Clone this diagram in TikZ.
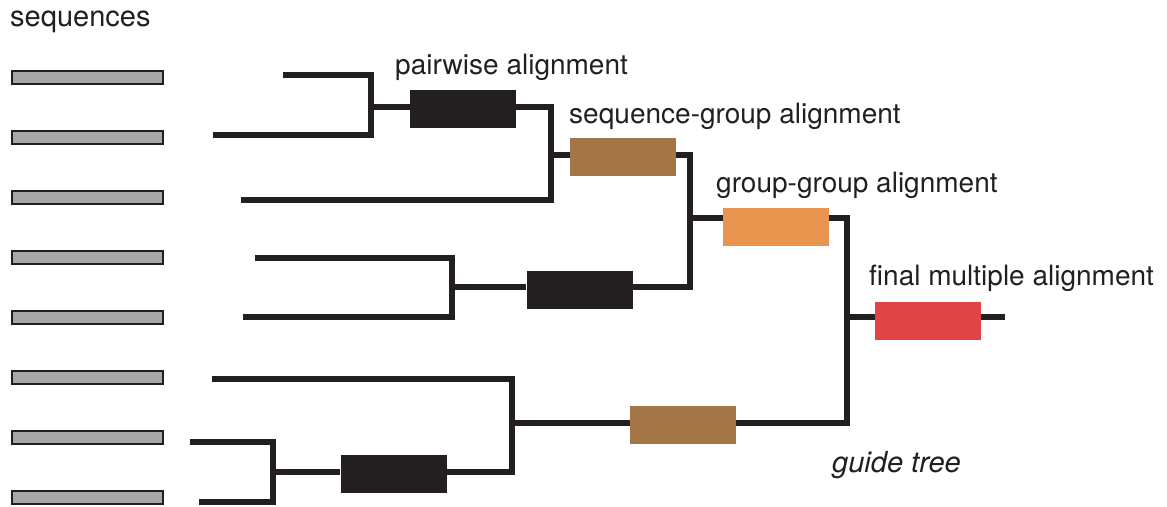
\documentclass[tikz,border=0pt]{standalone}
\usepackage{fontspec}
\setmainfont{TeX Gyre Heros}
\definecolor{ink}{HTML}{231F20}
\definecolor{seqgray}{HTML}{A7A7A7}
\definecolor{brownbox}{HTML}{A37547}
\definecolor{orangebox}{HTML}{E8954F}
\definecolor{redbox}{HTML}{E04446}
\tikzset{
  seqbar/.style={draw=ink, fill=seqgray, line width=2pt, minimum width=151pt, minimum height=13pt, inner sep=0pt},
  alnbox/.style={minimum width=106pt, minimum height=38pt, inner sep=0pt, draw=none},
  tree/.style={draw=ink, line width=5.5pt, line join=miter, line cap=butt},
  lbl/.style={anchor=base west, inner sep=0pt, text=ink, font=\fontsize{28}{32}\selectfont}
}
\begin{document}
\begin{tikzpicture}[x=1pt,y=-1pt]
\useasboundingbox (0,0) rectangle (1167,506);
% sequences
\foreach \i in {0,...,7}{
  \node[seqbar] (s\i) at (87.5,{77.5+60*\i}) {};
}
\node[lbl, font=\fontsize{29}{33}\selectfont] (tseq) at (10,27) {sequences};
% leaf starts
\coordinate (l1) at (283,75);
\coordinate (l2) at (213,135);
\coordinate (l3) at (241,200);
\coordinate (l4) at (255,258);
\coordinate (l5) at (243,317);
\coordinate (l6) at (212,379);
\coordinate (l7) at (190,442);
\coordinate (l8) at (199,502);
% junctions
\coordinate (c1) at (371,107);
\coordinate (c2) at (551,155);
\coordinate (c3) at (690,218);
\coordinate (c4) at (452,287);
\coordinate (c5) at (273,472);
\coordinate (c6) at (512,423);
\coordinate (c7) at (847,317);
\coordinate (cend) at (1005,317);
% boxes
\node[alnbox, fill=ink] (pw1) at (463,109) {};
\node[alnbox, fill=brownbox] (sg1) at (623,157) {};
\node[alnbox, fill=orangebox] (gg) at (776,227) {};
\node[alnbox, fill=ink] (pw2) at (579.5,290) {};
\node[alnbox, fill=ink] (pw3) at (393.5,474) {};
\node[alnbox, fill=brownbox] (sg2) at (683,424.5) {};
\node[alnbox, fill=redbox] (fin) at (928,321) {};
% tree
\draw[tree] (l1) -| (c1) |- (l2);
\draw[tree] (c1) -- (c1 -| pw1.west);
\draw[tree] (pw1.east |- c1) -| (c2) |- (l3);
\draw[tree] (c2) -- (c2 -| sg1.west);
\draw[tree] (l4) -| (c4) |- (l5);
\draw[tree] (c4) -- (c4 -| pw2.west);
\draw[tree] (sg1.east |- c2) -| (c3) |- (pw2.east |- c4);
\draw[tree] (c3) -- (c3 -| gg.west);
\draw[tree] (l7) -| (c5) |- (l8);
\draw[tree] (c5) -- (c5 -| pw3.west);
\draw[tree] (l6) -| (c6) |- (pw3.east |- c5);
\draw[tree] (c6) -- (c6 -| sg2.west);
\draw[tree] (gg.east |- c3) -| (c7) |- (sg2.east |- c6);
\draw[tree] (c7) -- (c7 -| fin.west);
\draw[tree] (fin.east |- c7) -- (cend);
% labels
\node[lbl] (tpw) at (395,74) {pairwise alignment};
\node[lbl] (tsg) at (569,123) {sequence-group alignment};
\node[lbl] (tgg) at (716,192) {group-group alignment};
\node[lbl] (tfin) at (869,285) {final multiple alignment};
\node[lbl, font=\fontsize{29}{33}\selectfont\itshape] (tguide) at (832,472) {guide tree};
\end{tikzpicture}
\end{document}
